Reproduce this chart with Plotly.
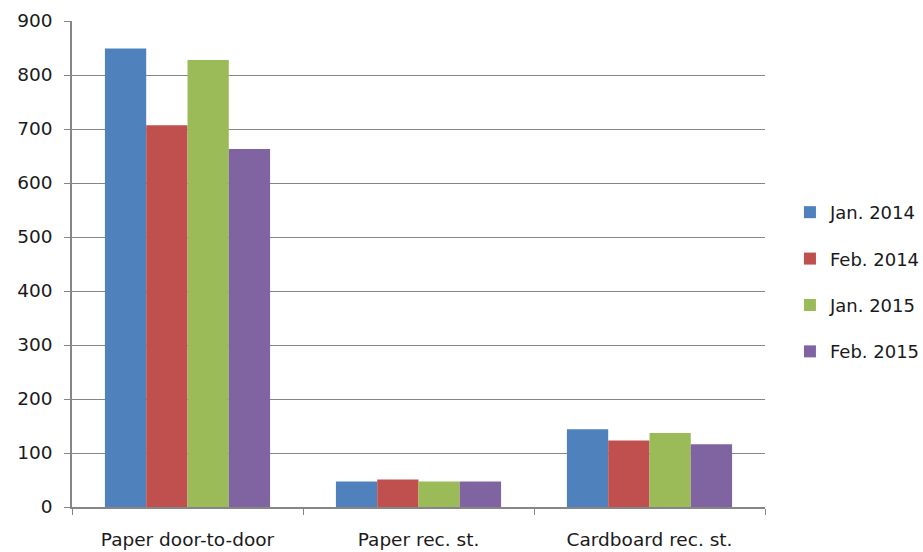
import plotly.graph_objects as go

categories = ["Paper door-to-door", "Paper rec. st.", "Cardboard rec. st."]
series_names = ["Jan. 2014", "Feb. 2014", "Jan. 2015", "Feb. 2015"]
jan_2014 = [849, 47, 144]
feb_2014 = [707, 51, 123]
jan_2015 = [828, 47, 137]
feb_2015 = [663, 47, 116]
colors = ["#4F81BD", "#C0504D", "#9BBB59", "#8064A2"]
y_ticks = [0, 100, 200, 300, 400, 500, 600, 700, 800, 900]

fig = go.Figure()
for i, (name, vals) in enumerate(zip(series_names, [jan_2014, feb_2014, jan_2015, feb_2015])):
    fig.add_trace(go.Bar(x=categories, y=vals, name=name, marker_color=colors[i],
                         marker_line_width=0, legendgroup=f"g{i}"))

axis_font = dict(family="DejaVu Sans", size=18.5, color="#1a1a1a")
fig.update_layout(
    width=923, height=552,
    margin=dict(l=72, r=158, t=21, b=45, autoexpand=False),
    paper_bgcolor="white", plot_bgcolor="white",
    barmode="group", bargap=0.285, bargroupgap=0,
    font=axis_font,
    legend=dict(x=1.036, xanchor="left", y=0.463, yanchor="middle", tracegroupgap=20,
                font=dict(family="DejaVu Sans", size=18, color="#1a1a1a"),
                itemwidth=30),
    xaxis=dict(showline=True, linecolor="#868686", linewidth=1.5, ticks="outside",
               tickson="boundaries", ticklen=6, tickcolor="#868686", tickfont=axis_font,
               ticklabelstandoff=15, automargin=False),
    yaxis=dict(range=[0, 900], tickvals=y_ticks, showgrid=True, gridcolor="#868686",
               gridwidth=1.2, showline=True, linecolor="#868686", linewidth=1.5,
               ticks="outside", ticklen=6, tickcolor="#868686", tickfont=axis_font,
               zeroline=False, ticklabelstandoff=8, automargin=False),
)
fig.write_html("out.html")
